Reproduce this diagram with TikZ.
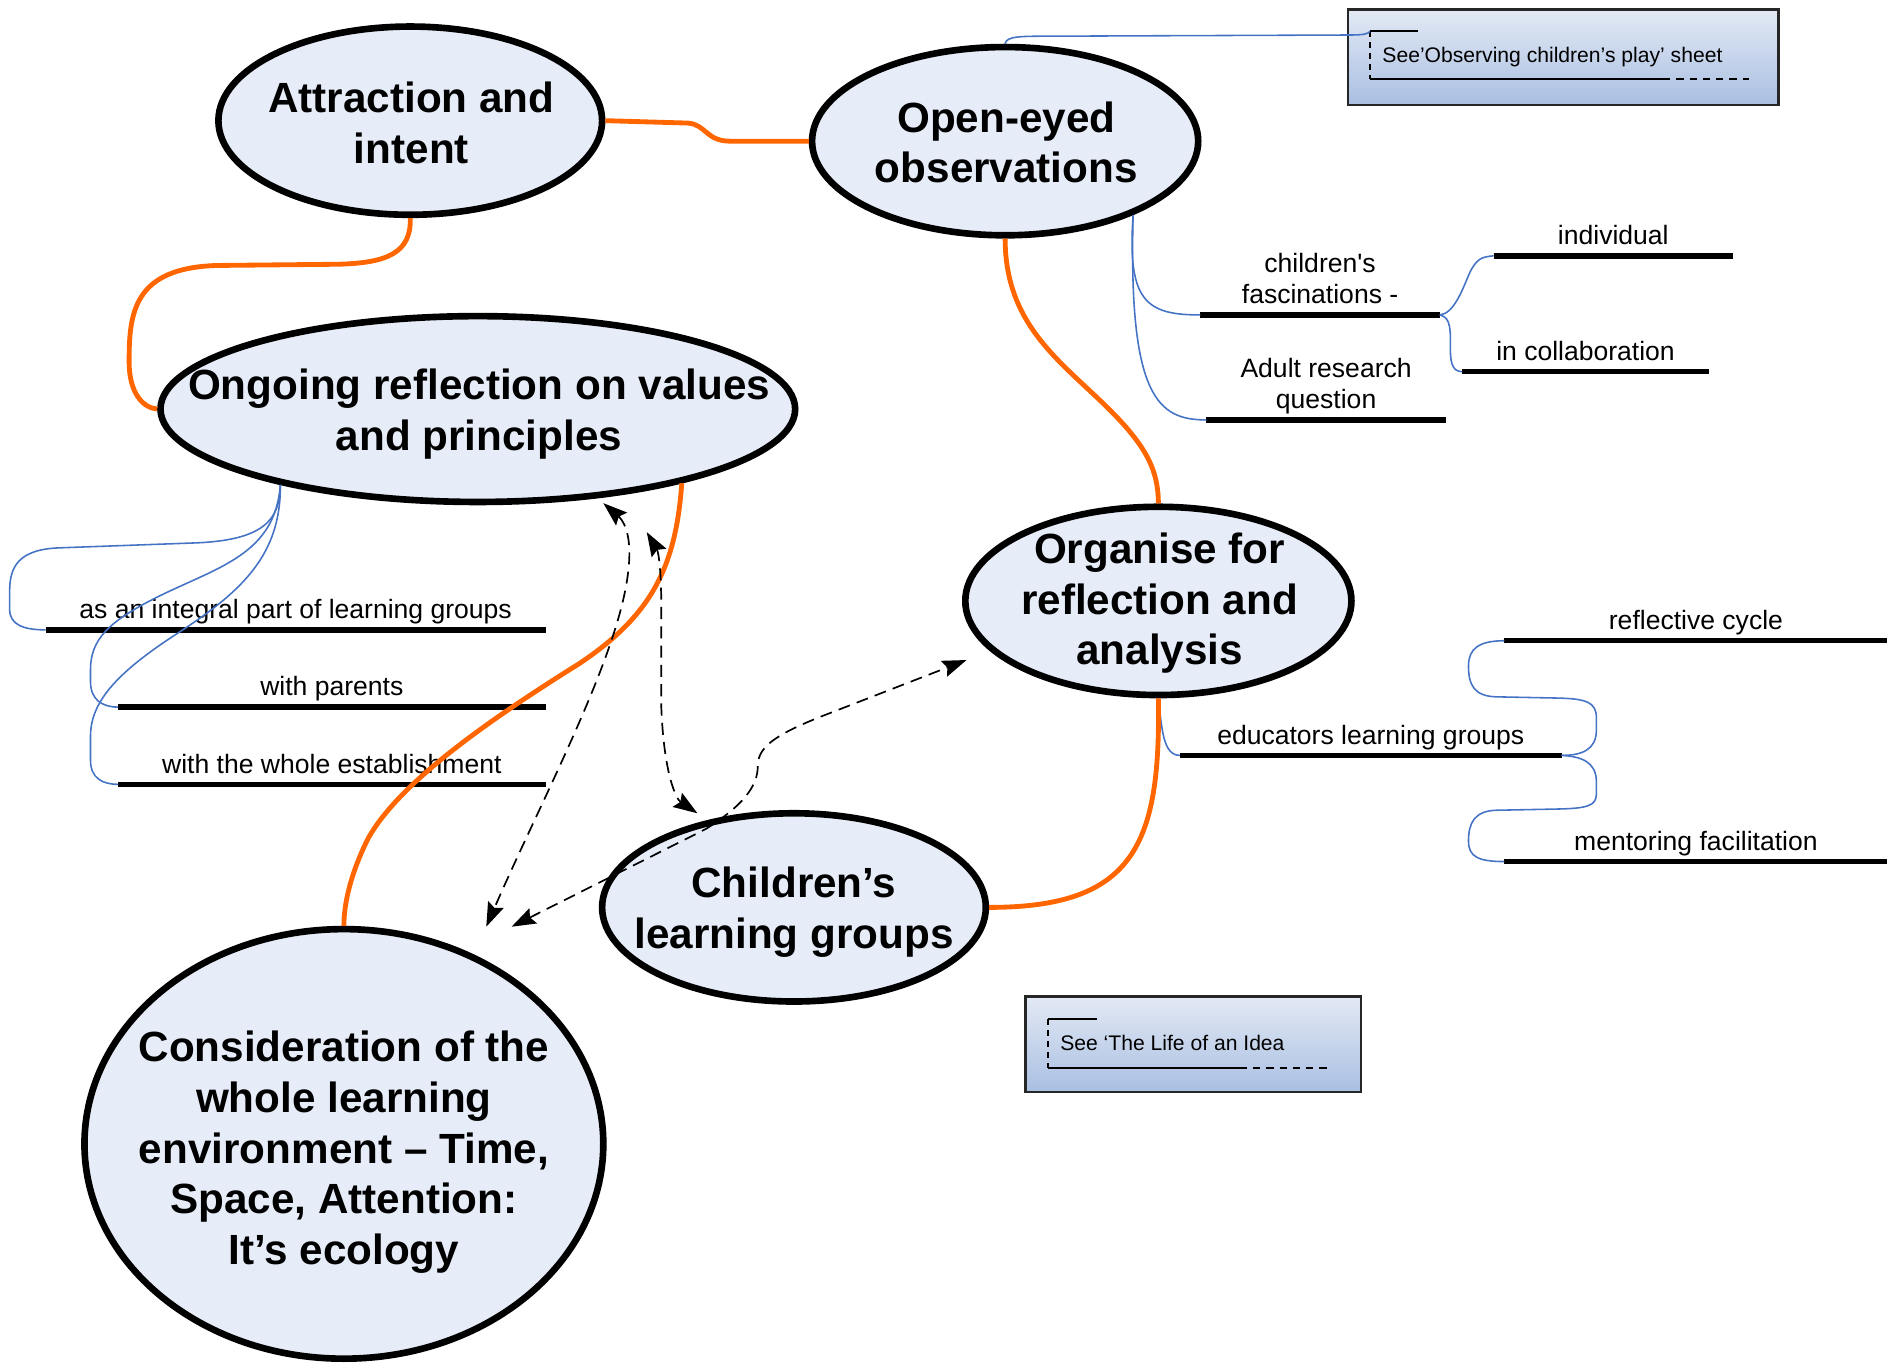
\documentclass[tikz,border=0pt]{standalone}
\usepackage{fontspec}
\setmainfont{Liberation Sans}
\newfontfamily\lblfont{Liberation Sans}
\usetikzlibrary{shapes.geometric,arrows.meta}
\definecolor{ellfill}{HTML}{E6EDF8}
\definecolor{orng}{HTML}{FF6600}
\definecolor{blu}{HTML}{4472C4}
\definecolor{boxtop}{HTML}{E3E9F4}
\definecolor{boxbot}{HTML}{A9BFE2}
\begin{document}
\begin{tikzpicture}[x=1pt,y=-1pt,
 ell/.style={ellipse, draw=black, line width=5.5pt, fill=ellfill, inner sep=0pt},
 etxt/.style={align=center, inner sep=0pt, font=\bfseries\fontsize{35}{42}\selectfont},
 lbl/.style={anchor=south, inner xsep=0pt, inner ysep=0pt, text depth=9pt, align=center, font=\lblfont\fontsize{22}{26}\selectfont},
 bar/.style={line width=4.5pt, line cap=butt},
 orc/.style={draw=orng, line width=4pt},
 blc/.style={draw=blu, line width=1.3pt},
 dsh/.style={draw=black, line width=1.4pt, dash pattern=on 10pt off 6pt, {Stealth[length=20pt,width=14pt,inset=3pt]}-{Stealth[length=20pt,width=14pt,inset=3pt]}},
 box/.style={draw=black!85, line width=1.8pt, top color=boxtop, bottom color=boxbot, anchor=north west, inner sep=0pt},
 btxt/.style={anchor=west, inner sep=0pt, font=\fontsize{17.5}{21}\selectfont},
 mk/.style={line width=1.5pt}
]
\useasboundingbox (0,0) rectangle (1568,1129);

% callout boxes
\node[box, minimum width=357, minimum height=79] (b1) at (1116,7) {};
\node[btxt] (b1t) at (1145.5,47) {See’Observing children’s play’ sheet};
\coordinate (b1m) at (1135.3,26);
\draw[mk] (b1m) -- (1175.3,26);
\draw[mk, dash pattern=on 5pt off 4pt] (b1m) -- (1135.3,65.8);
\draw[mk] (1135.3,65.8) -- (1378.3,65.8);
\draw[mk, dash pattern=on 6pt off 5pt] (1378.3,65.8) -- (1449.4,65.8);

\node[box, minimum width=278, minimum height=79] (b2) at (849,825) {};
\node[btxt] (b2t) at (878.5,864.7) {See ‘The Life of an Idea};
\coordinate (b2m) at (868.4,844.8);
\draw[mk] (b2m) -- (909,844.8);
\draw[mk, dash pattern=on 5pt off 4pt] (b2m) -- (868.4,884.9);
\draw[mk] (868.4,884.9) -- (1027.5,884.9);
\draw[mk, dash pattern=on 6pt off 5pt] (1027.5,884.9) -- (1103.5,884.9);

% ellipses
\node[ell, minimum width=318, minimum height=156] (attr) at (340,100) {};
\node[etxt] (attrt) at (341,102) {Attraction and\\intent};
\node[ell, minimum width=320, minimum height=156] (open) at (833,117) {};
\node[etxt] (opent) at (834,118) {Open-eyed\\observations};
\node[ell, minimum width=526, minimum height=154] (ongo) at (396,339) {};
\node[etxt] (ongot) at (397,343) {Ongoing reflection on values\\and principles};
\node[ell, minimum width=320, minimum height=156] (org) at (960,498) {};
\node[etxt] (orgt) at (961,500) {Organise for\\reflection and\\analysis};
\node[ell, minimum width=318, minimum height=156] (child) at (658,752) {};
\node[etxt] (childt) at (658,756) {Children’s\\learning groups};
\node[ell, minimum width=430, minimum height=356] (cons) at (285,948) {};
\node[etxt] (const) at (285,955) {Consideration of the\\whole learning\\environment – Time,\\Space, Attention:\\It’s ecology};

% labels with bars
\node[lbl, minimum width=414] (integ) at (245,522) {as an integral part of learning groups};
\node[lbl, minimum width=354] (parents) at (275,586) {with parents};
\node[lbl, minimum width=354] (whole) at (275,650) {with the whole establishment};
\node[lbl, minimum width=198] (fasc) at (1094,261) {children's\\fascinations -};
\node[lbl, minimum width=198] (adult) at (1099,348) {Adult research\\question};
\node[lbl, minimum width=198] (indiv) at (1337,212) {individual};
\node[lbl, minimum width=204] (collab) at (1314,308) {in collaboration};
\node[lbl, minimum width=316] (edu) at (1136,626) {educators learning groups};
\node[lbl, minimum width=317] (refl) at (1405.5,531) {reflective cycle};
\node[lbl, minimum width=317] (ment) at (1405.5,714) {mentoring facilitation};
\foreach \n in {integ,parents,whole,fasc,adult,indiv,collab,edu,refl,ment}
  \draw[bar] (\n.south west) -- (\n.south east);

% blue connectors
\draw[blc] (open.north) .. controls (834,30) and (845,30) .. (870,30) -- (1120,29) .. controls (1130,29) and (1134,28) .. (b1m);
\draw[blc] (open.-30) .. controls (934,250) and (950,261) .. (fasc.south west);
\draw[blc] (open.-30) .. controls (935,330) and (960,348) .. (adult.south west);
\draw[blc] (fasc.south east) .. controls (1205,260) and (1212,240) .. (1218,226) .. controls (1224,214) and (1228,213) .. (indiv.south west);
\draw[blc] (fasc.south east) .. controls (1203,263) and (1202,275) .. (1202,290) .. controls (1202,303) and (1205,308) .. (collab.south west);
\draw[blc] (ongo.-159) .. controls (232,430) and (220,448) .. (160,450) -- (50,454) .. controls (15,455) and (8,470) .. (8,490) -- (8,505) .. controls (8,518) and (20,522) .. (integ.south west);
\draw[blc] (ongo.-159) .. controls (228,460) and (180,470) .. (130,495) .. controls (90,515) and (75,530) .. (75,555) -- (75,565) .. controls (75,580) and (85,586) .. (parents.south west);
\draw[blc] (ongo.-159) .. controls (233,460) and (200,490) .. (150,523) .. controls (100,555) and (75,580) .. (75,610) -- (75,630) .. controls (75,645) and (85,650) .. (whole.south west);
\draw[blc] (org.south) .. controls (963,605) and (964,626) .. (edu.south west);
\draw[blc] (edu.south east) .. controls (1310,626) and (1323,622) .. (1323,605) -- (1323,595) .. controls (1323,582) and (1315,579) .. (1290,578.5) -- (1240,577.5) .. controls (1222,577) and (1217,568) .. (1217,552) .. controls (1217,538) and (1225,531) .. (refl.south west);
\draw[blc] (edu.south east) .. controls (1310,627) and (1323,631) .. (1323,648) -- (1323,658) .. controls (1323,668) and (1315,670) .. (1290,670.5) -- (1240,671.5) .. controls (1222,672) and (1217,682) .. (1217,697) .. controls (1217,710) and (1225,714) .. (ment.south west);

% orange connectors
\draw[orc] (attr.east) -- (570,102) .. controls (585,103) and (585,117) .. (605,117) -- (open.west);
\draw[orc] (attr.south) .. controls (341,210) and (320,218) .. (280,219) -- (180,220) .. controls (110,222) and (107,260) .. (107,300) .. controls (107,325) and (118,338) .. (ongo.west);
\draw[orc] (open.south) .. controls (833,270) and (880,300) .. (920,340) .. controls (950,370) and (960,390) .. (org.north);
\draw[orc] (ongo.-20) .. controls (560,470) and (540,510) .. (480,550) .. controls (400,600) and (330,650) .. (305,695) .. controls (290,725) and (285,750) .. (cons.north);
\draw[orc] (org.south) .. controls (962,700) and (940,752) .. (child.east);

% dashed double arrows
\coordinate (pA) at (500,417);
\coordinate (pB) at (536,441);
\coordinate (pC) at (578,674);
\coordinate (pD) at (403,768);
\coordinate (pE) at (424,768);
\coordinate (pF) at (801,547);
\draw[dsh] (pA) .. controls (515,430) and (524,440) .. (521,470) .. controls (515,540) and (450,660) .. (pD);
\draw[dsh] (pB) .. controls (546,458) and (548,475) .. (548,500) -- (548,585) .. controls (550,640) and (560,662) .. (pC);
\draw[dsh] (pE) -- (585,687) .. controls (615,668) and (628,652) .. (628,635) .. controls (628,620) and (640,610) .. (680,594) -- (pF);
\end{tikzpicture}
\end{document}
